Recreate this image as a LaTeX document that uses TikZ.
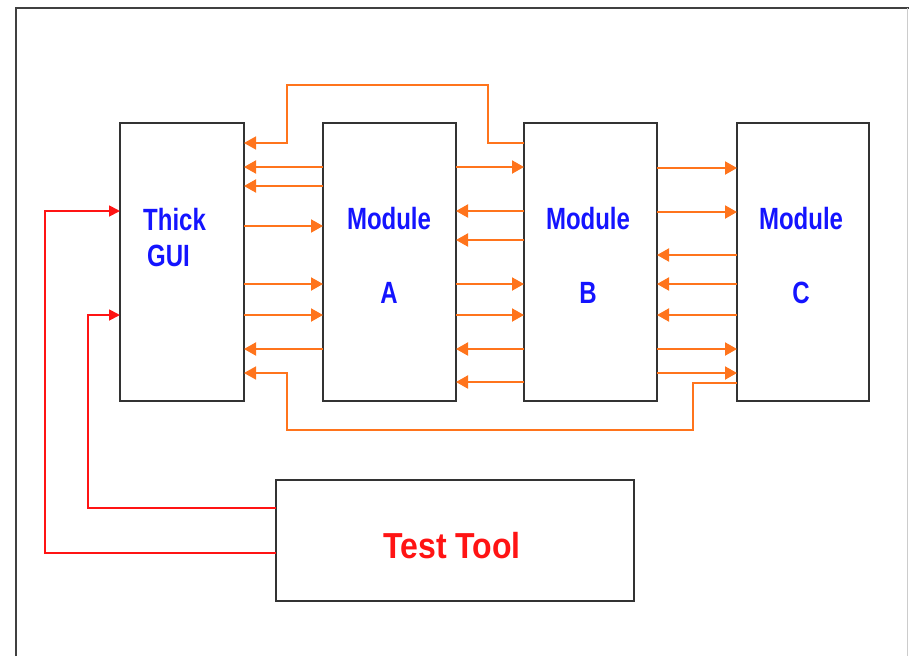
\documentclass[tikz,border=0pt]{standalone}
\usepackage{graphicx}
\usepackage{fontspec}
\setmainfont{Liberation Sans}
\usetikzlibrary{arrows.meta,positioning}

\definecolor{linkorange}{RGB}{255,116,28}
\definecolor{tooltred}{RGB}{255,20,20}
\definecolor{labblue}{RGB}{20,20,255}
\newcommand{\tallbl}[1]{\scalebox{1}[1.28]{#1}}
\newcommand{\talltool}[1]{\scalebox{1}[1.13]{#1}}

\begin{document}
\begin{tikzpicture}[x=1pt,y=-1pt,
  blk/.style={draw=black!80,line width=1.5pt,inner sep=0pt,outer sep=0pt,anchor=north west},
  oarr/.style={draw=linkorange,line width=2pt,-{Triangle[length=12pt,width=13pt]}},
  oloop/.style={draw=linkorange,line width=1.5pt,-{Triangle[length=12pt,width=13pt]}},
  rarr/.style={draw=tooltred,line width=1.8pt,-{Triangle[length=11pt,width=11pt]}},
  lbl/.style={font=\bfseries\fontsize{24}{28}\selectfont,text=labblue,inner sep=0pt}]
 \useasboundingbox (0,0) rectangle (909,656);
 \draw[black!75,line width=1.2pt] (16,656) -- (16,8) -- (909,8);
 \draw[black!20,line width=1pt] (907.5,8) -- (907.5,656);

 \node[blk,minimum width=124,minimum height=278] (gui) at (120,123) {};
 \node[blk,minimum width=133,minimum height=278] (moda) at (323,123) {};
 \node[blk,minimum width=133,minimum height=278] (modb) at (524,123) {};
 \node[blk,minimum width=132,minimum height=278] (modc) at (737,123) {};
 \node[blk,minimum width=358,minimum height=121] (tool) at (276,480) {};

 \node[lbl,anchor=west] (thick) at (143,220) {\tallbl{Thick}};
 \node[lbl,anchor=west] (guitxt) at (147,256) {\tallbl{GUI}};
 \foreach \n/\x/\l in {a/389/A,b/588/B,c/801/C} {
  \node[lbl] (mod\n txt) at (\x,219) {\tallbl{Module}};
  \node[lbl] (let\n) at (\x,293) {\tallbl{\l}};
 }
 \node[font=\bfseries\fontsize{32}{36}\selectfont,text=tooltred,inner sep=0pt] (tooltxt) at (452,546) {\talltool{Test Tool}};

 % gui <-> module a
 \foreach \y in {226,284,315} \draw[oarr] (gui.east |- 0,\y) -- (moda.west |- 0,\y);
 \foreach \y in {167,186,349} \draw[oarr] (moda.west |- 0,\y) -- (gui.east |- 0,\y);
 % module a <-> module b
 \foreach \y in {167,284,315} \draw[oarr] (moda.east |- 0,\y) -- (modb.west |- 0,\y);
 \foreach \y in {211,240,349,382} \draw[oarr] (modb.west |- 0,\y) -- (moda.east |- 0,\y);
 % module b <-> module c
 \foreach \y in {168,212,349,373} \draw[oarr] (modb.east |- 0,\y) -- (modc.west |- 0,\y);
 \foreach \y in {255,284,315} \draw[oarr] (modc.west |- 0,\y) -- (modb.east |- 0,\y);
 % loops back to the gui
 \draw[oloop] (modb.west |- 0,143) -| (488,85) -| (287,143) -- (gui.east |- 0,143);
 \draw[oloop] (modc.west |- 0,383) -| (693,430) -| (287,373) -- (gui.east |- 0,373);

 % test tool
 \draw[rarr] (tool.west |- 0,508) -| (88,315) -- (gui.west |- 0,315);
 \draw[rarr] (tool.west |- 0,553) -| (45,211) -- (gui.west |- 0,211);
\end{tikzpicture}
\end{document}
